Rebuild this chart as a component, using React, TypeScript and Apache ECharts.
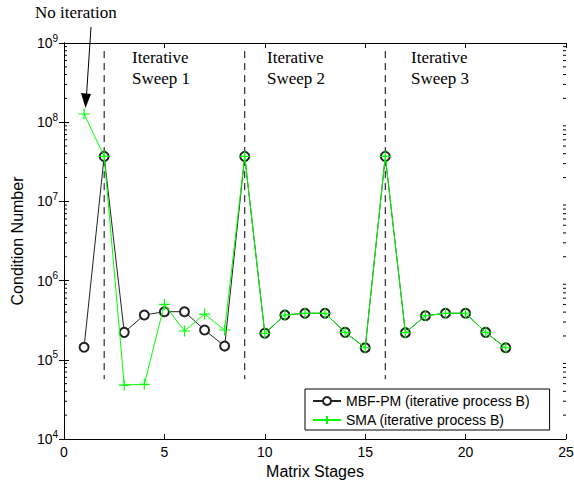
import React, { useEffect, useRef } from "react";
import * as echarts from "echarts";

const stages = [1, 2, 3, 4, 5, 6, 7, 8, 9, 10, 11, 12, 13, 14, 15, 16, 17, 18, 19, 20, 21, 22];
const mbfPm = [1.44e5, 3.7e7, 2.22e5, 3.68e5, 4.05e5, 4.05e5, 2.38e5, 1.49e5, 3.7e7, 2.16e5, 3.68e5, 3.87e5, 3.87e5, 2.22e5, 1.42e5, 3.7e7, 2.2e5, 3.6e5, 3.87e5, 3.87e5, 2.22e5, 1.42e5];
const sma = [1.27e8, 3.7e7, 4.8e4, 4.9e4, 5.0e5, 2.31e5, 3.78e5, 2.38e5, 3.7e7, 2.16e5, 3.68e5, 3.87e5, 3.87e5, 2.22e5, 1.42e5, 3.7e7, 2.2e5, 3.6e5, 3.87e5, 3.87e5, 2.22e5, 1.42e5];
const sweepBoundaries = [2, 9, 16];
const dashTop = 7.9e8;
const dashBottom = 5.7e4;
const sweepLabels = ["Iterative\nSweep 1", "Iterative\nSweep 2", "Iterative\nSweep 3"];
const seriesNames = ["MBF-PM (iterative process B)", "SMA (iterative process B)"];
const minorMultipliers = [2, 3, 4, 5, 6, 7, 8, 9];
const minorDecades = [4, 5, 6, 7, 8];

export default function App() {
  const ref = useRef<HTMLDivElement>(null);
  useEffect(() => {
    if (!ref.current) return;
    const chart = echarts.init(ref.current, null, { renderer: "svg" });
    const minorVals: number[][] = [];
    minorDecades.forEach((d) => minorMultipliers.forEach((m) => minorVals.push([0, m * Math.pow(10, d)])));

    const labelFmt = (v: number) => `{b|10}{s|${Math.round(Math.log10(v))}}`;
    const sansFont = "'Liberation Sans', Arial, sans-serif";
    const serifFont = "'Liberation Serif', 'Times New Roman', serif";

    const dashSeries = sweepBoundaries.map((b) => ({
      type: "line",
      data: [[b, dashTop], [b, dashBottom]],
      symbol: "none",
      silent: true,
      lineStyle: { color: "#000", width: 1, type: [7, 5] },
      z: 1,
    }));

    const sweepXs = [132, 267, 411];
    const graphics: any[] = sweepLabels.map((t, i) => ({
      type: "text",
      left: sweepXs[i],
      top: 47,
      style: { text: t, font: `17px ${serifFont}`, fill: "#000", lineHeight: 21 },
    }));
    graphics.push({
      type: "text",
      left: 35,
      top: 4,
      style: { text: "No iteration", font: `17px ${serifFont}`, fill: "#000" },
    });
    graphics.push({
      type: "line",
      shape: { x1: 91, y1: 27, x2: 86.5, y2: 95 },
      style: { stroke: "#000", lineWidth: 1 },
    });
    graphics.push({
      type: "polygon",
      shape: { points: [[81, 93], [91, 94], [85.5, 108]] },
      style: { fill: "#000" },
    });

    chart.setOption({
      animation: false,
      backgroundColor: "#fff",
      grid: { left: 64, right: 8, top: 43, bottom: 48, show: false, containLabel: false, outerBoundsMode: "none" },
      legend: {
        data: seriesNames,
        orient: "vertical",
        left: 305,
        top: 389,
        width: 257,
        itemWidth: 28,
        itemHeight: 10,
        itemGap: 5,
        padding: [5, 20, 3, 7],
        borderColor: "#000",
        borderWidth: 1,
        backgroundColor: "#fff",
        textStyle: { fontFamily: sansFont, fontSize: 14, color: "#000" },
      },
      xAxis: [
        {
          type: "value",
          min: 0,
          max: 25,
          interval: 5,
          name: "Matrix Stages",
          nameLocation: "middle",
          nameGap: 18,
          nameTextStyle: { fontFamily: sansFont, fontSize: 16, color: "#000" },
          axisLine: { lineStyle: { color: "#000" } },
          axisTick: { inside: true, length: 5, lineStyle: { color: "#000" } },
          axisLabel: { fontFamily: sansFont, fontSize: 14, color: "#000", margin: 6 },
          splitLine: { show: false },
        },
        {
          type: "value",
          position: "top",
          min: 0,
          max: 25,
          interval: 5,
          axisLine: { lineStyle: { color: "#000" } },
          axisTick: { inside: true, length: 5, lineStyle: { color: "#000" } },
          axisLabel: { show: false },
          splitLine: { show: false },
        },
      ],
      yAxis: [
        {
          type: "log",
          logBase: 10,
          min: 1e4,
          max: 1e9,
          name: "Condition Number",
          nameLocation: "middle",
          nameGap: 37,
          nameTextStyle: { fontFamily: sansFont, fontSize: 16, color: "#000" },
          axisLine: { show: true, lineStyle: { color: "#000" } },
          axisTick: { show: true, inside: true, length: 5, lineStyle: { color: "#000" } },
          axisLabel: {
            formatter: labelFmt,
            margin: 6,
            rich: {
              b: { fontFamily: sansFont, fontSize: 14, color: "#000" },
              s: { fontFamily: sansFont, fontSize: 10, color: "#000", padding: [0, 0, 10, 0] },
            },
          },
          splitLine: { show: false },
        },
        {
          type: "log",
          logBase: 10,
          min: 1e4,
          max: 1e9,
          position: "right",
          axisLine: { show: true, lineStyle: { color: "#000" } },
          axisTick: { show: true, inside: true, length: 5, lineStyle: { color: "#000" } },
          axisLabel: { show: false },
          splitLine: { show: false },
        },
      ],
      series: [
        ...dashSeries,
        {
          type: "custom",
          silent: true,
          clip: false,
          data: minorVals,
          renderItem: (params: any, api: any) => {
            const v = api.value(1);
            const p0 = api.coord([0, v]);
            const p1 = api.coord([25, v]);
            return {
              type: "group",
              children: [
                { type: "line", shape: { x1: p0[0], y1: p0[1], x2: p0[0] + 3, y2: p0[1] }, style: { stroke: "#000", lineWidth: 1 } },
                { type: "line", shape: { x1: p1[0], y1: p1[1], x2: p1[0] - 3, y2: p1[1] }, style: { stroke: "#000", lineWidth: 1 } },
              ],
            };
          },
        },
        {
          name: seriesNames[0],
          type: "line",
          data: stages.map((s, i) => [s, mbfPm[i]]),
          symbol: "emptyCircle",
          symbolSize: 9,
          showAllSymbol: true,
          lineStyle: { color: "#222", width: 1 },
          itemStyle: { color: "#222", borderColor: "#222", borderWidth: 1 },
          z: 3,
        },
        {
          name: seriesNames[1],
          type: "line",
          data: stages.map((s, i) => [s, sma[i]]),
          symbol: "path://M5,0L5,10M0,5L10,5",
          symbolSize: 11,
          showAllSymbol: true,
          lineStyle: { color: "#00ff00", width: 1 },
          itemStyle: { color: "#00ff00", borderColor: "#00ff00", borderWidth: 1.2 },
          z: 4,
        },
      ],
      graphic: graphics,
    });
    return () => chart.dispose();
  }, []);
  return <div ref={ref} style={{ width: 574, height: 487, position: "absolute", left: 0, top: 0 }} />;
}
